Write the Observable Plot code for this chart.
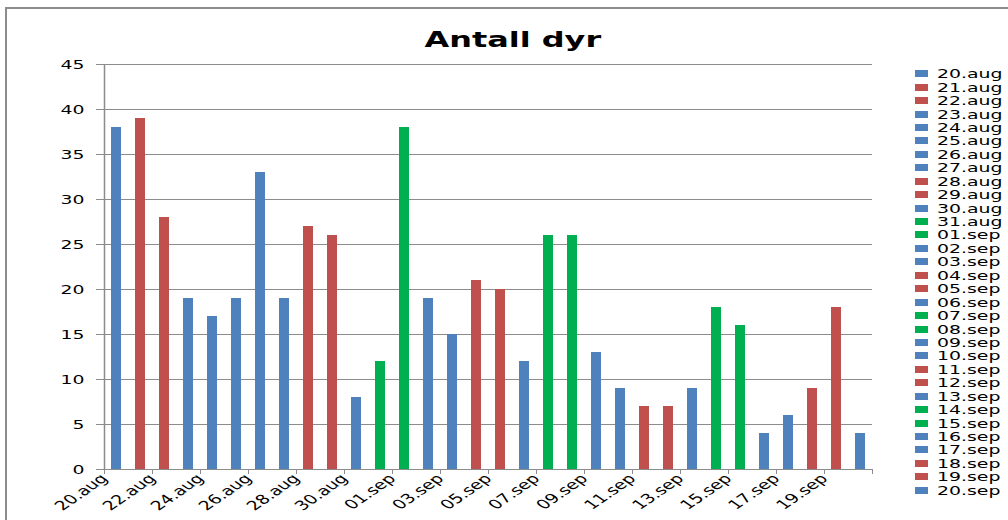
<!DOCTYPE html>
<html>
<head>
<meta charset="utf-8">
<script src="https://cdn.jsdelivr.net/npm/d3@7"></script>
<script src="https://cdn.jsdelivr.net/npm/@observablehq/plot@0.6"></script>
<style>
  html, body { margin: 0; padding: 0; background: #fff; }
  #wrap { position: relative; width: 1008px; height: 520px; overflow: hidden; font-family: "DejaVu Sans", sans-serif; }
  #frame { position: absolute; left: 5px; top: 7px; width: 1100px; height: 600px; border: 2px solid #8c8c8c; box-sizing: border-box; }
  #chart { position: absolute; left: 0; top: 0; }
  #title { position: absolute; left: 0; width: 1026px; top: 27px; text-align: center; font-weight: bold; font-size: 22px; color: #000; }
  #title span { display: inline-block; transform: scaleX(1.45); }
  #legend { position: absolute; left: 915px; top: 67px; }
  .item { height: 13.45px; display: flex; align-items: center; white-space: nowrap; }
  .sw { width: 13px; height: 7px; margin-right: 9px; flex: none; }
  .lab { font-size: 13px; color: #000; display: inline-block; transform: scaleX(1.45); transform-origin: left center; line-height: 13px; }
</style>
</head>
<body>
<div id="wrap">
  <div id="frame"></div>
  <div id="chart"></div>
  <div id="title"><span>Antall dyr</span></div>
  <div id="legend"></div>
</div>
<script>
const dates = ["20.aug","21.aug","22.aug","23.aug","24.aug","25.aug","26.aug","27.aug","28.aug","29.aug","30.aug","31.aug",
  "01.sep","02.sep","03.sep","04.sep","05.sep","06.sep","07.sep","08.sep","09.sep","10.sep","11.sep","12.sep",
  "13.sep","14.sep","15.sep","16.sep","17.sep","18.sep","19.sep","20.sep"];
const values = [38,39,28,19,17,19,33,19,27,26,8,12,38,19,15,21,20,12,26,26,13,9,7,7,9,18,16,4,6,9,18,4];
const groups = ["b","r","r","b","b","b","b","b","r","r","b","g","g","b","b","r","r","b","g","g","b","b","r","r","b","g","g","b","b","r","r","b"];
const groupNames = ["b","r","g"];
const groupColors = ["#4F81BD","#C0504D","#00B050"];
const yTicks = [0,5,10,15,20,25,30,35,40,45];
const xLabelDates = dates.filter((d, i) => i % 2 === 0);

const data = dates.map((d, i) => ({date: d, value: values[i], group: groups[i]}));

const plot = Plot.plot({
  width: 1008,
  height: 520,
  marginLeft: 104,
  marginRight: 136,
  marginTop: 64,
  marginBottom: 51,
  style: {fontFamily: "DejaVu Sans", fontSize: "13px", color: "#000", background: "transparent", overflow: "visible"},
  x: {type: "band", domain: dates, paddingInner: 0.58, paddingOuter: 0.29},
  y: {domain: [0, 45]},
  color: {domain: groupNames, range: groupColors},
  marks: [
    Plot.gridY(yTicks, {stroke: "#8c8c8c", strokeOpacity: 1, strokeWidth: 1}),
    Plot.barY(data, {x: "date", y: "value", fill: "group"}),
    Plot.ruleX([dates[0]], {dx: -12, y1: 0, y2: 45, stroke: "#8c8c8c", strokeWidth: 1.5}),
    Plot.axisY({ticks: yTicks, tickSize: 8, tickPadding: 12, stroke: "#8c8c8c", label: null, fill: "#000"}),
    Plot.axisX({ticks: xLabelDates, tickRotate: -45, tickSize: 5, tickPadding: 2, dx: -12, stroke: "#8c8c8c", label: null, fill: "#000"}),
    Plot.axisX({ticks: [dates[dates.length - 1]], tickSize: 5, dx: 12, tickFormat: () => "", stroke: "#8c8c8c", label: null})
  ]
});
document.getElementById("chart").appendChild(plot);

// horizontally stretch axis tick labels like the original (stretch applied after rotation)
plot.querySelectorAll("g[aria-label$='tick label'] text").forEach(t => {
  const tr = t.getAttribute("transform");
  if (!tr) return;
  if (tr.includes("rotate(")) t.setAttribute("transform", tr.replace("rotate(", "scale(1.45,1) rotate("));
  else t.setAttribute("transform", tr + " scale(1.45,1)");
});

const legend = document.getElementById("legend");
dates.forEach((d, i) => {
  const item = document.createElement("div");
  item.className = "item";
  const sw = document.createElement("div");
  sw.className = "sw";
  sw.style.background = groupColors[groupNames.indexOf(groups[i])];
  const lab = document.createElement("span");
  lab.className = "lab";
  lab.textContent = d;
  item.appendChild(sw);
  item.appendChild(lab);
  legend.appendChild(item);
});
</script>
</body>
</html>
